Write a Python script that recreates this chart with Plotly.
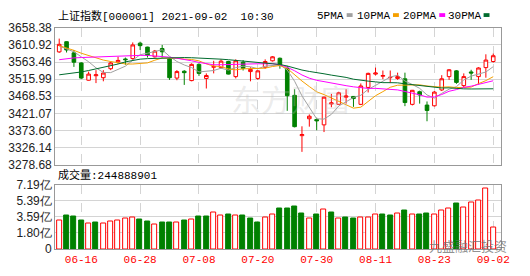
import plotly.graph_objects as go
import numpy as np

dates = ["06-10","06-11","06-15","06-16","06-17","06-18","06-21","06-22","06-23","06-24",
         "06-25","06-28","06-29","06-30","07-01","07-02","07-05","07-06","07-07","07-08",
         "07-09","07-12","07-13","07-14","07-15","07-16","07-19","07-20","07-21","07-22",
         "07-23","07-26","07-27","07-28","07-29","07-30","08-02","08-03","08-04","08-05",
         "08-06","08-09","08-10","08-11","08-12","08-13","08-16","08-17","08-18","08-19",
         "08-20","08-23","08-24","08-25","08-26","08-27","08-30","08-31","09-01","09-02"]

opens = [3591.7, 3620, 3589, 3561, 3513, 3525.5, 3520, 3545, 3564, 3572,
         3573, 3616, 3605, 3578, 3601, 3572, 3519, 3538, 3512, 3557,
         3518, 3549, 3548, 3565, 3523, 3563, 3537, 3518, 3549, 3567,
         3574, 3546, 3471, 3359, 3406, 3404, 3389, 3447, 3446, 3466,
         3468, 3446, 3493, 3530, 3524, 3520, 3518, 3517, 3446, 3481,
         3444, 3442, 3486, 3523, 3539, 3498, 3536, 3523, 3548, 3565]
highs = [3628.6, 3621, 3597, 3563, 3537, 3541, 3541, 3565, 3578, 3576,
         3618, 3620, 3606, 3597, 3611, 3574, 3541, 3541, 3560, 3560,
         3532, 3567, 3571, 3567, 3571, 3569, 3549, 3541, 3571, 3580,
         3576, 3553, 3488, 3385, 3418, 3409, 3467, 3475, 3481, 3488,
         3469, 3504, 3534, 3548, 3540, 3540, 3534, 3534, 3486, 3484,
         3454, 3483, 3527, 3544, 3541, 3532, 3542, 3549, 3585, 3587]
lows = [3589, 3590, 3550, 3516, 3512, 3505, 3510, 3541, 3559, 3556,
        3570, 3597, 3576, 3576, 3576, 3514, 3513, 3500, 3510, 3525,
        3490, 3532, 3545, 3529, 3518, 3540, 3510, 3514, 3545, 3565,
        3545, 3428, 3382, 3314, 3384, 3374, 3369, 3438, 3444, 3448,
        3439, 3444, 3479, 3526, 3516, 3505, 3514, 3441, 3443, 3448,
        3399, 3440, 3483, 3514, 3503, 3494, 3514, 3501, 3520, 3562]
closes = [3612.7, 3597, 3563, 3519, 3530, 3528, 3533, 3561, 3568, 3570,
          3611, 3609, 3582, 3594, 3592, 3520, 3537, 3534, 3557, 3532,
          3526, 3551, 3566, 3530, 3567, 3546, 3543, 3539, 3565, 3578,
          3554, 3470, 3384, 3362, 3413, 3400, 3466, 3450, 3478, 3469,
          3462, 3497, 3532, 3533, 3526, 3521, 3523, 3451, 3485, 3472,
          3429, 3480, 3517, 3542, 3507, 3523, 3533, 3547, 3569, 3581]

# volume in 亿
volumes = [3.17, 3.70, 3.59, 3.17, 2.82, 3.00, 2.82, 3.07, 3.17, 3.42,
           3.52, 3.31, 3.10, 2.75, 3.00, 3.00, 3.00, 3.21, 3.31, 3.59,
           3.59, 4.12, 3.70, 3.81, 3.70, 3.70, 3.42, 3.00, 3.52, 3.88,
           4.51, 4.51, 4.76, 3.98, 3.45, 3.88, 4.41, 4.12, 3.45, 3.49,
           3.38, 3.56, 3.49, 3.88, 3.88, 3.77, 3.98, 4.34, 3.88, 3.88,
           3.98, 3.88, 4.34, 4.51, 5.04, 4.62, 5.15, 5.39, 6.73, 2.44888901]

# moving-average values before a full window exists
ma5_head = [3608, 3601, 3592, 3578]
ma10_head = [3609, 3603, 3596, 3588, 3581, 3575, 3569, 3565, 3561]
ma20_head = [3570, 3573, 3575, 3576, 3577, 3578, 3579, 3580, 3580, 3581,
             3581, 3582, 3582, 3581, 3580, 3577, 3574, 3571, 3567]
ma30_head = [3528, 3530, 3533, 3536, 3540, 3544, 3548, 3553, 3558, 3564,
             3568, 3571.5, 3573, 3574, 3575, 3575.5, 3576, 3576, 3575.5, 3575,
             3574, 3573, 3571.5, 3570, 3568, 3566, 3564, 3562, 3560.5]

price_ticks = [3278.68, 3326.14, 3373.60, 3421.07, 3468.53, 3515.99, 3563.46, 3610.92, 3658.38]
vol_ticks = [0, 1.7975, 3.595, 5.3925, 7.19]
vol_tick_text = ["0", "1.80亿", "3.59亿", "5.39亿", "7.19亿"]
date_ticks = ["06-16", "06-28", "07-08", "07-20", "07-30", "08-11", "08-23", "09-02"]

title_text = "上证指数[000001] 2021-09-02  10:30"
vol_label = "成交量:244888901"
ma_names = ["5PMA", "10PMA", "20PMA", "30PMA"]

RED = "#FF0000"
GREEN = "#008000"
MA_COLORS = ["#A0A0A0", "#F5A000", "#FF00FF", "#006B2E"]

x = list(range(len(dates)))


def moving_average(n, head):
    out = list(head)
    for i in range(len(head), len(closes)):
        out.append(float(np.mean(closes[i - n + 1:i + 1])))
    return out


mas = [moving_average(5, ma5_head), moving_average(10, ma10_head),
       moving_average(20, ma20_head), moving_average(30, ma30_head)]

vol_up = [(closes[i] >= closes[i - 1]) if i > 0 else (closes[0] >= opens[0]) for i in x]

fig = go.Figure()

fig.add_trace(go.Candlestick(
    x=x, open=opens, high=highs, low=lows, close=closes,
    increasing=dict(line=dict(color=RED, width=1), fillcolor="white"),
    decreasing=dict(line=dict(color=GREEN, width=1), fillcolor=GREEN),
    whiskerwidth=0, xaxis="x", yaxis="y", showlegend=False, hoverinfo="skip"))

for m, c in zip(mas, MA_COLORS):
    fig.add_trace(go.Scatter(x=x, y=m, mode="lines", line=dict(color=c, width=1),
                             xaxis="x", yaxis="y", showlegend=False, hoverinfo="skip"))

fig.add_trace(go.Bar(
    x=x, y=volumes, width=0.68,
    marker=dict(color=["white" if u else GREEN for u in vol_up],
                line=dict(color=[RED if u else GREEN for u in vol_up], width=1)),
    xaxis="x2", yaxis="y2", showlegend=False, hoverinfo="skip"))

W, H = 530, 276
L, R = 56, 509
PT, PB = 22, 166
VT, VB = 187, 255


def px(v):
    return v / W


def py(v):
    return 1 - v / H


grid = "#D4D4D4"
border = "#999999"
tick_font = dict(family="Liberation Sans, Arial", size=12, color="#222")
mono = "Liberation Mono, Noto Sans CJK SC"

fig.update_layout(
    width=W, height=H, margin=dict(l=0, r=0, t=0, b=0),
    paper_bgcolor="white", plot_bgcolor="white", bargap=0,
    xaxis=dict(domain=[px(L), px(R)], range=[-0.55, 60.1], anchor="y",
               tickvals=[dates.index(d) for d in date_ticks], showticklabels=False,
               showgrid=True, gridcolor=grid, griddash="dash", gridwidth=1,
               showline=True, mirror=True, linecolor=border, linewidth=1,
               zeroline=False, ticks="", rangeslider=dict(visible=False)),
    yaxis=dict(domain=[py(PB), py(PT)], range=[price_ticks[0] - 0.01, price_ticks[-1] + 0.01],
               anchor="x", tickvals=price_ticks, ticktext=[f"{v:.2f}" for v in price_ticks],
               showgrid=True, gridcolor=grid, gridwidth=1, zeroline=False,
               showline=True, mirror=True, linecolor=border, linewidth=1,
               ticks="", tickfont=tick_font),
    xaxis2=dict(domain=[px(L), px(R)], matches="x", anchor="y2",
                tickvals=[dates.index(d) for d in date_ticks], ticktext=date_ticks,
                showgrid=True, gridcolor=grid, griddash="dash", gridwidth=1,
                showline=True, mirror=True, linecolor=border, linewidth=1,
                zeroline=False, ticks="",
                tickfont=dict(family=mono, size=11, color=RED)),
    yaxis2=dict(domain=[py(VB), py(VT)], range=[0, 7.19 + 0.005], anchor="x2",
                tickvals=vol_ticks, ticktext=vol_tick_text,
                showgrid=True, gridcolor=grid, gridwidth=1, zeroline=False,
                showline=True, mirror=True, linecolor=border, linewidth=1,
                ticks="", tickfont=tick_font),
)

annotations = [
    dict(text=title_text, x=px(57), y=py(9), xref="paper", yref="paper",
         xanchor="left", yanchor="middle", showarrow=False,
         font=dict(family=mono, size=11, color="#000")),
    dict(text=vol_label, x=px(57), y=py(177), xref="paper", yref="paper",
         xanchor="left", yanchor="middle", showarrow=False,
         font=dict(family=mono, size=11, color="#000")),
    dict(text="东方财富", x=px(295), y=py(96), xref="paper", yref="paper",
         xanchor="center", yanchor="middle", showarrow=False,
         font=dict(family="Noto Sans CJK SC", size=30, color="rgba(190,190,190,0.30)")),
    dict(text="九盛融汇投资", x=px(475), y=py(251), xref="paper", yref="paper",
         xanchor="center", yanchor="middle", showarrow=False,
         font=dict(family="Noto Sans CJK SC", size=13, color="rgba(110,110,110,0.75)")),
]

# legend items: label right edge and colour chip
chip_left = [352, 399, 446, 491]
for name, c, cl in zip(ma_names, MA_COLORS, chip_left):
    annotations.append(dict(text=name, x=px(cl - 1), y=py(9), xref="paper", yref="paper",
                            xanchor="right", yanchor="middle", showarrow=False,
                            font=dict(family=mono, size=11, color="#000")))
    fig.add_shape(type="rect", xref="paper", yref="paper",
                  x0=px(cl), x1=px(cl + 6), y0=py(10.5), y1=py(6.5),
                  fillcolor=c, line=dict(width=0))

fig.update_layout(annotations=annotations)

fig.write_html("out.html")
